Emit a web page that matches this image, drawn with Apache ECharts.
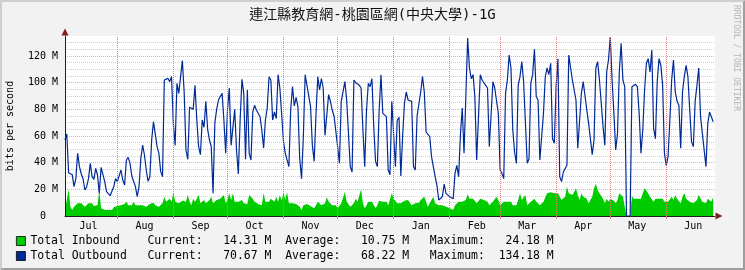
<!DOCTYPE html>
<html><head><meta charset="utf-8">
<script src="https://cdn.jsdelivr.net/npm/echarts@6/dist/echarts.min.js"></script>
<style>html,body{margin:0;padding:0;background:#f2f2f2}#c{width:745px;height:270px}</style>
</head><body><div id="c"></div>
<script>
const titleText = '連江縣教育網-桃園區網(中央大學)-1G';
const yAxisName = 'bits per second';
const watermarkText = 'RRDTOOL / TOBI OETIKER';
const seriesNames = ['Total Inbound', 'Total Outbound'];
const statLabels = ['Current:', 'Average:', 'Maximum:'];
const inboundStats = ['14.31 M', '10.75 M', '24.18 M'];
const outboundStats = ['70.67 M', '68.22 M', '134.18 M'];
const monthNames = ['Jul','Aug','Sep','Oct','Nov','Dec','Jan','Feb','Mar','Apr','May','Jun'];
const firstMonth = [2014, 6];           // Jul 2014 (UTC month index)
const startDay = Date.UTC(2014, 6, 3);  // first sample day
const spanDays = 360;
const yMax = 135, yMajor = 20, yMinor = 5;

// daily averages, Mbit/s
const inbound = [
4.5,5,20,7,4.5,7,8,9.5,8,9.5,
8,7,8,9.5,8,9.5,7.5,9,8,19.5,
5.75,4.5,4.5,5,4.5,5,4.5,6.5,7,7.5,
7,8,7,9,10.75,8,9.5,8,10.75,8,
7,8,9.5,8,9.5,7,8,9,8,10,
8,7,7,5.75,9.5,14.5,10.75,12,13,10.75,
18,
10.75,12,9.5,10.75,11.5,10,10.75,16,10.75,8,
13,10.75,13,15.75,9.5,10.75,12,9.5,10.75,12,
14.5,9.5,8,12,13,13,12,15.75,9.5,12,
17,12,17,10.75,9.5,10.75,10,12,9.5,10.75,
9,15.75,15.75,13,10.75,12,9,8,8,17,
10.75,11.5,10.75,13,12,10.75,14.5,10.75,15.75,11.5,
18,12,18,9.5,8,9.5,8,9,8,7,
4.5,8,9.5,9,8,7.5,7,5.75,8,10.75,
10,8,7,9.5,14,10.75,9.5,8,7,8,
5.75,4.5,9.5,9.5,18,10.75,10.75,7,7,9.5,
13,10.75,9.5,20,9.5,5.75,8,10.75,11.25,10.75,
9.5,5.75,8,11.5,12,10.75,12,10.75,8,9.5,
17,13,
12,9.5,8,9.5,10.75,11.5,10.75,12,10.75,8,
7,9.5,10.75,10,12,12,14.5,10.75,7,9.5,
8,14.5,9.5,10.75,8,9.5,8,9.5,7,8,
5.75,7,4.5,8,9.5,10.75,12,10.75,9.5,12,
16.5,13,12,13,12,9.5,10.75,13,14.5,12,
13,10.75,8,9.5,10.75,12,14.5,12,8,9.5,
10.75,9.5,10.75,12,10.75,8,7,8,12,17,
12,12.5,15.75,8,9.5,10.75,12,13,10.75,9.5,
8,9.5,10.75,12,17,17.5,17.75,17,17,18,
17,17,12,13,14.5,22,17,15.75,15.75,18,
20.75,15.75,12,17,14.5,15.75,13,9.5,8,14.5,
20.75,24.18,19.5,17,15.75,13,9.5,13,10.75,13,
12,11.5,9.5,12,17,15.75,14.5,14.5,0,0,
0,15,13,14.5,13,14.5,13,14.5,20.75,19.5,
17,14.5,13,10.75,13,13,13,14.5,13,10.75,
9.5,10.75,10.75,14.5,12,15.75,13,12,9.5,14.5,
17,13,12,10.75,9.5,9.5,10.75,12,15.75,13,
10.75,12,9.5,13,12,10.75,14.31
];
const outbound = [
57,61.5,32.5,31.5,31,22,28,47,37,31.5,
28,19.5,22,28,39.5,29.5,27.5,35.75,30.75,17,
36.5,38,25.75,18.25,17,15.25,13.75,22,28,25.75,
30.25,34.5,27,23.25,42,44,39.5,30,30,22,
14.5,22,43,53.25,45.75,34.5,26,29.5,57,70.75,
72,52,47,33.25,29.5,102,103.25,103.25,100.75,104.5,
69.5,
53,99.5,92,91,116.5,93,49.5,42.5,81.5,81,
80,98,72,52,46,72,66.5,86,65,57,
52,17,70,80,87,86,92,72,47,79.5,
96,53,54,80,49.5,31.5,72,102.5,92,42.5,
94.5,47,42,78,83,79.5,79,74.5,64.5,51,
72,81,104.5,102,72,78,73,106,96,95,
56,47,46,37,79.5,97,82.5,89,82,43,
28,59,106,98,98,82,53,41,76,104.5,
94.5,103,96,60.5,60,91,86,79.5,75,75,
52,39.5,86,86,100.75,87,87,37,33,102,
100,99.5,98,96,64.5,37,79.5,99.5,97,103,
67,41,37,79.5,106,77,76,74.5,34.5,31,
86,87,37,
72,74,30,60,84.5,93,87,86.5,86,37,
34.5,75,76,93,104.5,93,63,62,59.5,44.5,
43,29.5,23,12,13,14.5,24,17,17,14.5,
15,13,32,38,29.5,61,81,47,89.5,133.5,
111,103,106,89.5,42,43,106,102,103,98,
96,52,51,100.75,96,94.5,77,34.5,32,
28,92,102,120.75,111,64.5,48,39.5,98,104.5,
115.75,100.75,100,39.5,43,99.5,106,125,89.5,87,
42,40.75,77,104.5,111,106,114.5,58,54.5,97,
118,29.5,25.75,33,32,38,120.75,121,102,100.75,
87,50.75,49.5,92,100.75,99.5,79.5,69.5,69.5,46,
57,111,115.75,102,103,67,53,108,117,134.18,
102,77,49.5,62,108,129.5,102,97,0,0,
0,97,98,98.75,97,77,47,64.5,94.5,114.5,
118,108,124.5,65.75,58,100.75,118,113,98,47,
38,44.5,72,102,117,93,86,83,50.75,93,
104.5,113,104.5,79.5,55.75,52,86,98,111,74.5,
73,49.5,37,69.5,78,78,70.67
];

const DAY = 86400000;
const monthStarts = monthNames.map((_, i) => (Date.UTC(firstMonth[0], firstMonth[1] + i, 1) - startDay) / DAY);
const monthMids = monthStarts.map(v => v + 15);
const boundaries = monthStarts.filter(v => v > 0 && v < spanDays);

function legendLine(name, stats) {
  return name.padEnd(17) + statLabels[0] + stats[0].padStart(10) + '  ' +
         statLabels[1] + stats[1].padStart(10) + '   ' + statLabels[2] + stats[2].padStart(10);
}
const legendText = {};
legendText[seriesNames[0]] = legendLine(seriesNames[0], inboundStats);
legendText[seriesNames[1]] = legendLine(seriesNames[1], outboundStats);

const MONO = "'DejaVu Sans Mono'";
const gridMinor = '#cfcfcf', gridMajor = '#f0a8a8', vGridMajor = '#e27a7a', axisCol = '#1f1f1f', arrowCol = '#801f1f';
const minorColors = [];
for (let v = yMinor; v < yMax; v += yMinor) minorColors.push(v % yMajor === 0 ? 'rgba(0,0,0,0)' : gridMinor);

function legendFor(name, top) {
  return {
    data: [name], orient: 'vertical', left: 16, top: top, padding: 0, itemWidth: 9, itemHeight: 9,
    icon: 'rect', selectedMode: false,
    itemStyle: {borderColor: '#000', borderWidth: 0.8},
    textStyle: {fontFamily: MONO, fontSize: 11.44, color: '#000', lineHeight: 14},
    formatter: n => legendText[n]
  };
}

const chart = echarts.init(document.getElementById('c'), null, {renderer: 'canvas'});
chart.setOption({
  animation: false,
  backgroundColor: '#f2f2f2',
  title: {
    text: titleText, left: 'center', top: 8, padding: 0,
    textStyle: {fontFamily: "'DejaVu Sans Mono','Noto Sans CJK TC'", fontSize: 14, fontWeight: 'normal', color: '#111'}
  },
  grid: {left: 65, right: 30, top: 36, bottom: 54, show: true, backgroundColor: '#ffffff', borderWidth: 0,
         containLabel: false, outerBoundsMode: 'none'},
  legend: [legendFor(seriesNames[0], 234), legendFor(seriesNames[1], 249)],
  xAxis: [
    {type: 'value', min: 0, max: spanDays, position: 'bottom', z: 5,
     axisLine: {show: true, lineStyle: {color: axisCol, width: 1}},
     axisTick: {show: true, customValues: boundaries, length: 3, lineStyle: {color: vGridMajor}},
     axisLabel: {show: true, customValues: monthMids, margin: 5, fontFamily: MONO, fontSize: 10, color: '#000',
       formatter: v => { const i = monthMids.findIndex(m => Math.abs(m - v) < 0.01); return i >= 0 ? monthNames[i] : ''; }},
     splitLine: {show: false}},
    {type: 'value', min: 0, max: spanDays, position: 'bottom', z: 6,
     axisLine: {show: true, symbol: ['none', 'triangle'], symbolSize: [7, 7], symbolOffset: [0, 4], lineStyle: {color: arrowCol, width: 0}},
     axisTick: {show: false}, axisLabel: {show: false}, splitLine: {show: false}}
  ],
  yAxis: [
    {type: 'value', min: 0, max: yMax, interval: yMajor, position: 'left', z: 1,
     name: yAxisName, nameLocation: 'middle', nameGap: 50, nameRotate: 90,
     nameTextStyle: {fontFamily: MONO, fontSize: 10, color: '#000'},
     axisLine: {show: false}, axisTick: {show: false},
     axisLabel: {show: true, margin: 7, fontFamily: MONO, fontSize: 10, color: '#000', showMaxLabel: false,
       formatter: v => (v % yMajor !== 0 ? '' : (v === 0 ? '0  ' : v + ' M'))},
     splitLine: {show: true, showMinLine: false, showMaxLine: false, lineStyle: {color: gridMajor, width: 1, type: [1, 1]}}},
    {type: 'value', min: 0, max: yMax, interval: yMinor, position: 'left', z: 0,
     axisLine: {show: false}, axisTick: {show: false}, axisLabel: {show: false},
     splitLine: {show: true, showMinLine: false, showMaxLine: false, lineStyle: {color: minorColors, width: 1, type: [1, 1]}}},
    {type: 'value', min: 0, max: yMax, position: 'left', z: 5,
     axisLine: {show: true, lineStyle: {color: axisCol, width: 1}},
     axisTick: {show: false}, axisLabel: {show: false}, splitLine: {show: false}},
    {type: 'value', min: 0, max: yMax, position: 'left', z: 6,
     axisLine: {show: true, symbol: ['none', 'triangle'], symbolSize: [7, 7], symbolOffset: [0, 4], lineStyle: {color: arrowCol, width: 0}},
     axisTick: {show: false}, axisLabel: {show: false}, splitLine: {show: false}}
  ],
  series: [
    {type: 'line', data: [], z: 1, silent: true, xAxisIndex: 0, yAxisIndex: 0,
     markLine: {silent: true, symbol: ['none', 'none'], label: {show: false}, animation: false,
       lineStyle: {color: vGridMajor, width: 1, type: [1, 1]}, emphasis: {disabled: true},
       data: boundaries.map(v => ({xAxis: v}))}},
    {name: seriesNames[0], type: 'line', data: inbound.map((v, i) => [i, v]), z: 2,
     color: '#00cc00', showSymbol: false, symbol: 'none', lineStyle: {width: 0},
     areaStyle: {color: '#00cc00', opacity: 1}, silent: true},
    {name: seriesNames[1], type: 'line', data: outbound.map((v, i) => [i, v]), z: 3,
     color: '#002a97', showSymbol: false, symbol: 'none', lineStyle: {width: 1.2, color: '#002a97'}, silent: true}
  ],
  graphic: [
    {type: 'polygon', silent: true, z: 100, shape: {points: [[0,270],[2,268],[2,2],[743,2],[745,0],[0,0]]}, style: {fill: '#cfcfcf'}},
    {type: 'polygon', silent: true, z: 100, shape: {points: [[2,268],[743,268],[743,2],[745,0],[745,270],[0,270]]}, style: {fill: '#9e9e9e'}},
    {type: 'text', silent: true, z: 100, x: 740, y: 5, rotation: -Math.PI / 2,
     style: {text: watermarkText, font: "8px 'DejaVu Sans Mono'", fill: '#b4b4b4', textAlign: 'left', textVerticalAlign: 'top'}}
  ]
});
</script>
</body></html>
